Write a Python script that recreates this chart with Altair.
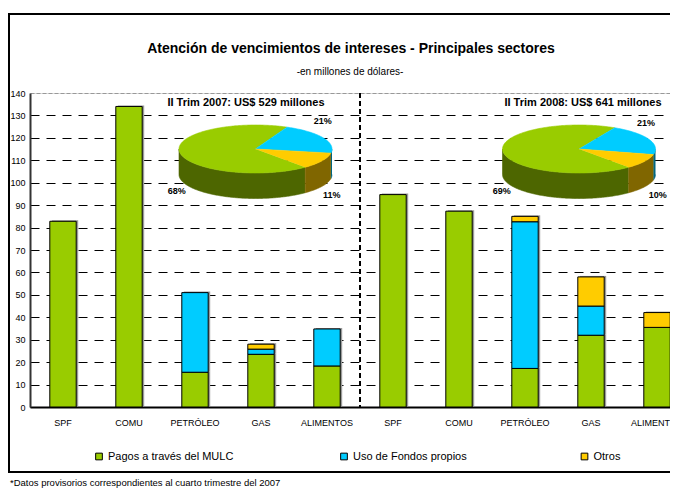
import altair as alt
import pandas as pd
import numpy as np

# ---------------- data ----------------
categories = ["SPF", "COMU", "PETRÓLEO", "GAS", "ALIMENTOS"]
periods = ["2007", "2008"]
series = ["Pagos a través del MULC", "Uso de Fondos propios", "Otros"]
colors = ["#99CC00", "#00CCFF", "#FFCC00"]
side_colors = ["#4D6600", "#006680", "#806600"]

pagos_2007 = [82.8, 134.0, 15.5, 23.5, 18.3]
fondos_2007 = [0.0, 0.0, 35.5, 2.3, 16.5]
otros_2007 = [0.0, 0.0, 0.0, 2.2, 0.0]
pagos_2008 = [94.7, 87.3, 17.2, 32.0, 35.5]
fondos_2008 = [0.0, 0.0, 65.4, 13.0, 0.0]
otros_2008 = [0.0, 0.0, 2.4, 13.0, 6.6]

pie_titles = ["II Trim 2007: US$ 529 millones", "II Trim 2008: US$ 641 millones"]
pie_2007 = [68, 21, 11]
pie_2008 = [69, 21, 10]

title = "Atención de vencimientos de intereses - Principales sectores"
subtitle = "-en millones de dólares-"
footnote = "*Datos provisorios correspondientes al cuarto trimestre del 2007"
y_ticks = list(range(0, 141, 10))

FONT = "Liberation Sans, Arial, sans-serif"
W, H = 640, 314

# ---------------- bar table ----------------
period_values = {
    "2007": [pagos_2007, fondos_2007, otros_2007],
    "2008": [pagos_2008, fondos_2008, otros_2008],
}
rows = []
for p in periods:
    for ci, c in enumerate(categories):
        for si, s in enumerate(series):
            rows.append(dict(key=f"{p}|{c}", cat=c, series=s, order=si,
                             value=period_values[p][si][ci]))
bar_df = pd.DataFrame(rows)
keys = [f"{p}|{c}" for p in periods for c in categories]

xscale = alt.Scale(domain=keys, range=[0, 660], paddingInner=0.6, paddingOuter=0.3)
yscale = alt.Scale(domain=[0, 140], nice=False)

shadow = alt.Chart(bar_df).transform_filter("datum.value > 0").mark_bar(
    color="#9a9a9a", xOffset=2, yOffset=-1
).encode(
    x=alt.X("key:N", scale=xscale, axis=None),
    y=alt.Y("value:Q", stack="zero", scale=yscale, axis=None),
    order=alt.Order("order:Q"),
)

bars = alt.Chart(bar_df).transform_filter("datum.value > 0").mark_bar(
    stroke="black", strokeWidth=1
).encode(
    x=alt.X("key:N", scale=xscale, title=None,
            axis=alt.Axis(labelExpr="split(datum.label, '|')[1]", ticks=False,
                          labelPadding=11, labelFontSize=9, labelAngle=0,
                          labelColor="black", labelFont=FONT,
                          domainColor="black", domainWidth=2)),
    y=alt.Y("value:Q", stack="zero", scale=yscale, title=None,
            axis=alt.Axis(values=y_ticks, ticks=False, labelPadding=5,
                          labelFontSize=9, labelColor="black", labelFont=FONT,
                          domainColor="#333333", domainWidth=2, grid=True,
                          gridColor={"condition": {"test": "datum.value == 140", "value": "#999999"},
                                     "value": "black"},
                          gridDash={"condition": {"test": "datum.value == 140", "value": [4, 2]},
                                    "value": [9, 7]},
                          gridWidth=1)),
    color=alt.Color("series:N", scale=alt.Scale(domain=series, range=colors), legend=None),
    order=alt.Order("order:Q"),
)

separator = alt.Chart().mark_rule(color="black", strokeWidth=2, strokeDash=[5, 3]).encode(
    x=alt.value(330), y=alt.value(0), y2=alt.value(H)
)

# ---------------- 3D pies ----------------
pie_cx = [225.5, 549.0]
pie_cy = 56.0
rx, ry, depth = 76.5, 24.0, 25.5
start_deg = 49.5


def pie_polys(pcts, cx, pid):
    tops, sides = [], []
    ang = start_deg
    for si, p in enumerate(pcts):
        sweep = p / 100.0 * 360.0
        t0, t1 = ang, ang + sweep
        ts = np.radians(np.linspace(t0, t1, int(sweep) + 3))
        pts = [(cx, pie_cy)] + [(cx + rx * np.cos(t), pie_cy + ry * np.sin(t)) for t in ts]
        for i, (px, py) in enumerate(pts):
            tops.append(dict(poly=f"{pid}-{si}", i=i, px=px, py=py, fill=colors[si]))
        for k in (-360, 0, 360):
            lo, hi = max(t0, k), min(t1, 180 + k)
            if hi > lo:
                tt = np.radians(np.linspace(lo, hi, int(hi - lo) + 3))
                edge = [(cx + rx * np.cos(t), pie_cy + ry * np.sin(t)) for t in tt]
                ring = edge + [(x, y + depth) for x, y in edge[::-1]]
                for i, (px, py) in enumerate(ring):
                    sides.append(dict(poly=f"{pid}-{si}-{k}", i=i, px=px, py=py,
                                      fill=side_colors[si]))
        ang = t1
    return tops, sides


top_rows, side_rows = [], []
for pid, (pcts, cx) in enumerate(zip([pie_2007, pie_2008], pie_cx)):
    t, s = pie_polys(pcts, cx, pid)
    top_rows += t
    side_rows += s

px_scale = alt.Scale(domain=[0, W], range=[0, W], nice=False, zero=False)
py_scale = alt.Scale(domain=[0, H], range=[0, H], nice=False, zero=False)


def poly_layer(df):
    return alt.Chart(df).mark_line(strokeWidth=0.6).encode(
        x=alt.X("px:Q", scale=px_scale, axis=None),
        y=alt.Y("py:Q", scale=py_scale, axis=None),
        detail="poly:N",
        order="i:Q",
        fill=alt.Fill("fill:N", scale=None),
        stroke=alt.Stroke("fill:N", scale=None),
    )


pie_side = poly_layer(pd.DataFrame(side_rows))
pie_top = poly_layer(pd.DataFrame(top_rows))


def text_layer(txt, x, y, size, bold=False, align="center"):
    return alt.Chart(pd.DataFrame({"t": [txt]})).mark_text(
        font=FONT, fontSize=size, fontWeight="bold" if bold else "normal",
        align=align, baseline="middle", color="black"
    ).encode(text="t:N", x=alt.value(x), y=alt.value(y))


texts = [
    text_layer(title, 321, -44, 14, bold=True),
    text_layer(subtitle, 320, -21, 10),
    text_layer(pie_titles[0], 216, 9.7, 11, bold=True),
    text_layer(pie_titles[1], 553, 9.5, 11, bold=True),
    text_layer(footnote, -20, 389.5, 9.5, align="left"),
]
pct_pos = [
    [(146.7, 98), (292.7, 27.7), (301.7, 102)],
    [(471.7, 98), (616, 29.7), (627.7, 102)],
]
for pcts, poss in zip([pie_2007, pie_2008], pct_pos):
    for p, (x, y) in zip(pcts, poss):
        texts.append(text_layer(f"{p}%", x, y, 9, bold=True))

# legend (manual, from series / colors)
legend_sq_x = [69, 314, 554.5]
legend_y = 363.5
legend_layers = []
for s, c, lx in zip(series, colors, legend_sq_x):
    legend_layers.append(
        alt.Chart().mark_square(size=45, fill=c, stroke="black", strokeWidth=1, opacity=1)
        .encode(x=alt.value(lx), y=alt.value(legend_y))
    )
    legend_layers.append(text_layer(s, lx + 9, legend_y, 11, align="left"))

frame = alt.Chart().mark_rect(fill=None, stroke="black", strokeWidth=2).encode(
    x=alt.value(-21), x2=alt.value(720), y=alt.value(-79), y2=alt.value(379)
)

chart = alt.layer(
    frame, shadow, bars, separator, pie_side, pie_top, *texts, *legend_layers
).resolve_scale(
    x="independent", y="independent"
).properties(
    width=W, height=H,
    autosize=alt.AutoSizeParams(type="none"),
    padding={"left": 22, "top": 85, "right": 0, "bottom": 81},
).configure_view(stroke=None).configure(font=FONT, background="white")

chart.save("out.html", embed_options={"renderer": "svg", "actions": False})
